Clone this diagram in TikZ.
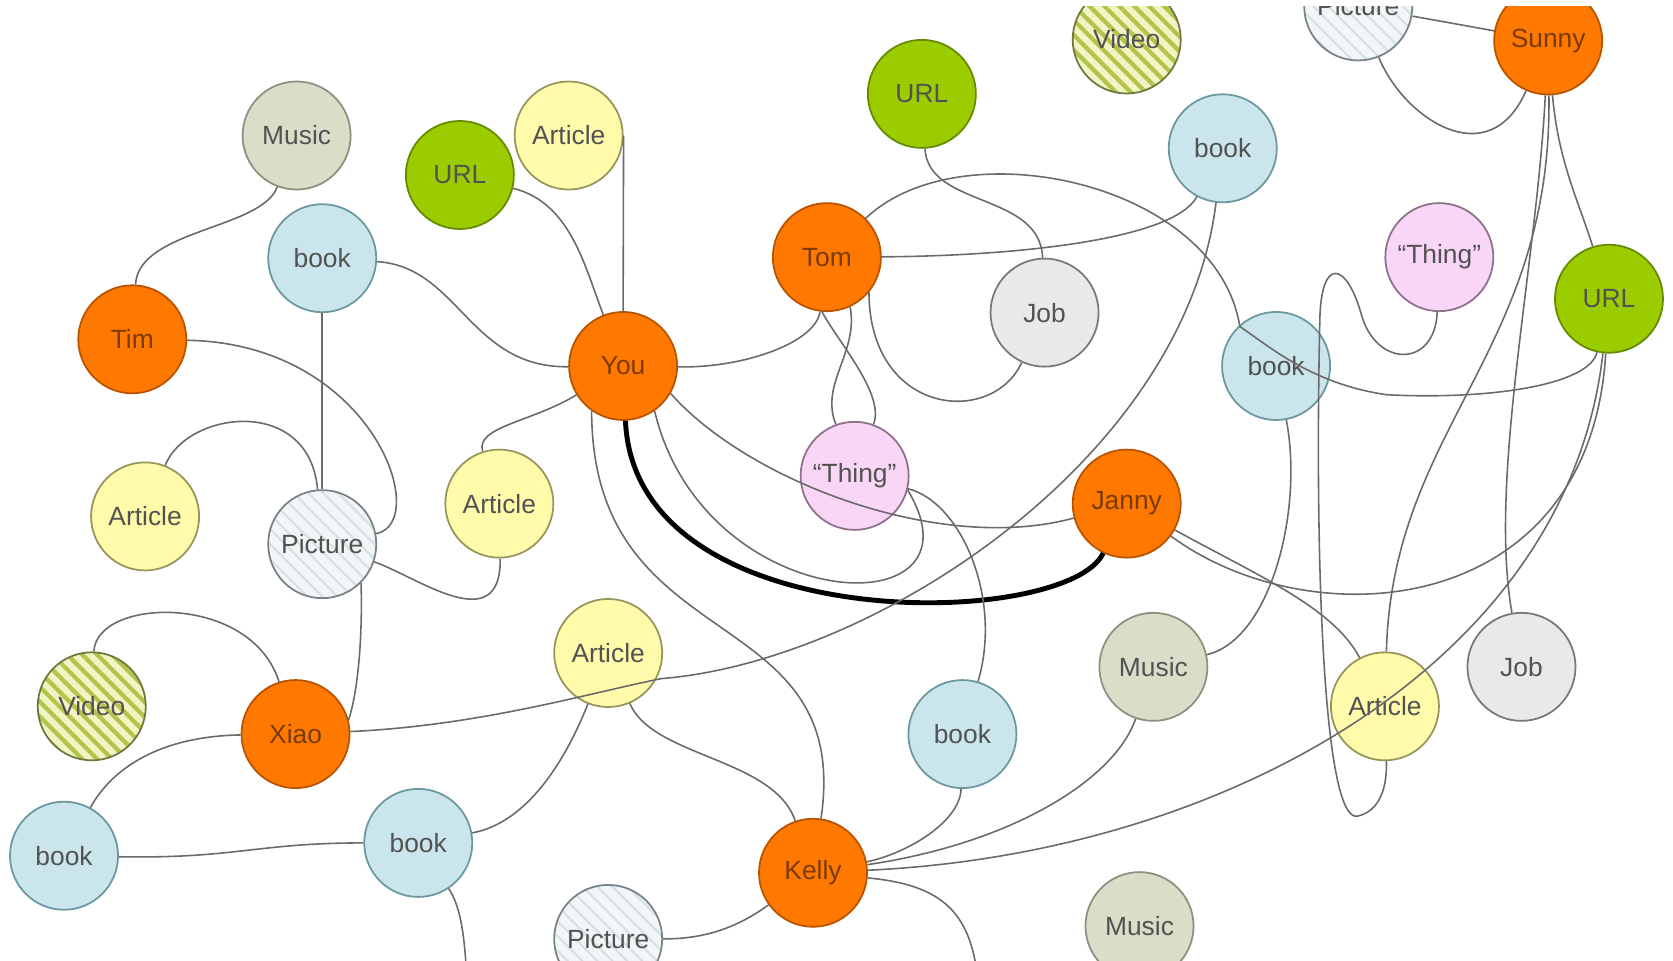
\documentclass[tikz,border=0pt]{standalone}
\usepackage{fontspec}
\setmainfont{Liberation Sans}
\usetikzlibrary{patterns,patterns.meta}

\definecolor{orangefill}{HTML}{FF7800}
\definecolor{orangeline}{HTML}{B85400}
\definecolor{orangetext}{HTML}{7A3A00}
\definecolor{greenfill}{HTML}{9ACC00}
\definecolor{greenline}{HTML}{668A00}
\definecolor{bluefill}{HTML}{CAE6EC}
\definecolor{blueline}{HTML}{6C979F}
\definecolor{yellowfill}{HTML}{FFFBAA}
\definecolor{yellowline}{HTML}{96965C}
\definecolor{musicfill}{HTML}{DCDDC9}
\definecolor{musicline}{HTML}{8E8F7E}
\definecolor{jobfill}{HTML}{E9E9E9}
\definecolor{jobline}{HTML}{787878}
\definecolor{thingfill}{HTML}{F9D6F6}
\definecolor{thingline}{HTML}{8C708C}
\definecolor{picfill}{HTML}{F3F6F7}
\definecolor{picline}{HTML}{788288}
\definecolor{picstripe}{HTML}{D6E0E5}
\definecolor{videofill}{HTML}{F2F4C4}
\definecolor{videostripe}{HTML}{B2C449}
\definecolor{videoline}{HTML}{6E783A}
\definecolor{edgegray}{HTML}{6A6A6A}

\tikzset{
  ent/.style={circle,draw,line width=0.5pt,minimum size=1.08cm,inner sep=0pt,
    text=black!68,font=\fontsize{7.5}{9}\selectfont},
  personnode/.style={ent,fill=orangefill,draw=orangeline,text=orangetext},
  urlnode/.style={ent,fill=greenfill,draw=greenline},
  booknode/.style={ent,fill=bluefill,draw=blueline},
  articlenode/.style={ent,fill=yellowfill,draw=yellowline},
  musicnode/.style={ent,fill=musicfill,draw=musicline},
  jobnode/.style={ent,fill=jobfill,draw=jobline},
  thingnode/.style={ent,fill=thingfill,draw=thingline},
  picnode/.style={ent,draw=picline,preaction={fill=picfill},
    pattern={Lines[angle=-45,distance=3pt,line width=0.6pt]},pattern color=picstripe},
  videonode/.style={ent,draw=videoline,preaction={fill=videofill},
    pattern={Lines[angle=-45,distance=3pt,line width=1.2pt]},pattern color=videostripe},
  ln/.style={draw=edgegray,line width=0.45pt},
  strongln/.style={draw=black,line width=1.4pt}
}

\begin{document}
\begin{tikzpicture}[x=0.01067cm,y=-0.01067cm]
\useasboundingbox (0,0) rectangle (1568,900);
\clip (0,6) rectangle (1568,900);

\node[musicnode] (music1) at (278,127) {Music};
\node[articlenode] (article1) at (533,127) {Article};
\node[urlnode] (url1) at (431,164) {URL};
\node[booknode] (book1) at (302,242) {book};
\node[personnode] (tim) at (124,318) {Tim};
\node[personnode] (you) at (584,343) {You};
\node[urlnode] (url2) at (864,88) {URL};
\node[videonode] (video1) at (1056,37) {Video};
\node[picnode] (picture1) at (1273,6) {Picture};
\node[personnode] (sunny) at (1451,38) {Sunny};
\node[booknode] (book2) at (1146,139) {book};
\node[personnode] (tom) at (775,241) {Tom};
\node[jobnode] (job1) at (979,293) {Job};
\node[thingnode] (thing1) at (1349,241) {``Thing''};
\node[urlnode] (url3) at (1508,280) {URL};
\node[booknode] (book3) at (1196,343) {book};
\node[articlenode] (article2) at (136,484) {Article};
\node[picnode] (picture2) at (302,510) {Picture};
\node[articlenode] (article3) at (468,472) {Article};
\node[thingnode] (thing2) at (801,446) {``Thing''};
\node[personnode] (janny) at (1056,472) {Janny};
\node[articlenode] (article4) at (570,612) {Article};
\node[videonode] (video2) at (86,662) {Video};
\node[personnode] (xiao) at (277,688) {Xiao};
\node[musicnode] (music2) at (1081,625) {Music};
\node[articlenode] (article5) at (1298,662) {Article};
\node[jobnode] (job2) at (1426,625) {Job};
\node[booknode] (book4) at (902,688) {book};
\node[booknode] (book5) at (60,802) {book};
\node[booknode] (book6) at (392,790) {book};
\node[personnode] (kelly) at (762,818) {Kelly};
\node[picnode] (picture3) at (570,880) {Picture};
\node[musicnode] (music3) at (1068,868) {Music};
\coordinate (kellyout) at (918,940);
\coordinate (book6out) at (438,940);

\draw[ln] (music1) .. controls (245,215) and (130,215) .. (tim);
\draw[ln] (book1) .. controls (430,250) and (440,345) .. (you);
\draw[ln] (book1) -- (picture2);
\draw[ln] (tim) .. controls (350,322) and (405,490) .. (picture2);
\draw[ln] (article2) .. controls (175,385) and (290,370) .. (picture2);
\draw[ln] (url1) .. controls (535,190) and (548,250) .. (you);
\draw[ln] (article1.east) -- (you.north);
\draw[ln] (you) .. controls (700,345) and (765,320) .. (tom);
\draw[ln] (you) .. controls (500,395) and (445,400) .. (article3);
\draw[strongln] (you) .. controls (595,600) and (1000,590) .. (janny);
\draw[ln] (you.235) .. controls (555,620) and (800,560) .. (kelly);
\draw[ln] (you.-30) .. controls (700,450) and (880,520) .. (janny);
\draw[ln] (you.-55) .. controls (660,580) and (930,590) .. (thing2.-15);
\draw[ln] (tom.-95) .. controls (785,320) and (830,370) .. (thing2.70);
\draw[ln] (tom.-65) .. controls (805,330) and (768,360) .. (thing2.110);
\draw[ln] (tom.-40) .. controls (815,390) and (930,400) .. (job1);
\draw[ln] (tom) .. controls (950,240) and (1100,225) .. (book2);
\draw[ln] (url2) .. controls (870,195) and (975,180) .. (job1);
\draw[ln] (tom.45) .. controls (900,120) and (1140,170) .. (1162,306)
  .. controls (1190,325) and (1230,360) .. (1300,370)
  .. controls (1400,375) and (1490,360) .. (url3);
\draw[ln] (xiao) .. controls (450,680) and (550,650) .. (620,636)
  .. controls (820,620) and (1110,430) .. (book2);
\draw[ln] (thing2) .. controls (900,470) and (940,560) .. (book4);
\draw[ln] (article4) .. controls (612,710) and (725,710) .. (kelly);
\draw[ln] (book6) .. controls (500,770) and (535,700) .. (article4);
\draw[ln] (kelly) .. controls (690,870) and (660,880) .. (picture3);
\draw[ln] (kelly) .. controls (850,800) and (900,770) .. (book4);
\draw[ln] (kelly) .. controls (950,790) and (1045,730) .. (music2);
\draw[ln] (kelly) .. controls (1150,800) and (1470,620) .. (url3);
\draw[ln] (kelly) .. controls (890,830) and (915,860) .. (kellyout);
\draw[ln] (book6) .. controls (432,850) and (437,880) .. (book6out);
\draw[ln] (video2) .. controls (90,560) and (235,555) .. (xiao);
\draw[ln] (xiao) .. controls (150,690) and (105,720) .. (book5);
\draw[ln] (book5) .. controls (220,805) and (240,790) .. (book6);
\draw[ln] (picture2.-45) .. controls (340,600) and (335,650) .. (xiao.15);
\draw[ln] (picture2) .. controls (390,540) and (470,600) .. (article3);
\draw[ln] (janny) .. controls (1230,600) and (1490,580) .. (url3);
\draw[ln] (janny) .. controls (1180,540) and (1250,570) .. (article5);
\draw[ln] (music2) .. controls (1190,600) and (1222,480) .. (book3);
\draw[ln] (thing1) .. controls (1345,345) and (1290,345) .. (1276,295)
  .. controls (1262,245) and (1238,240) .. (1237,300)
  .. controls (1232,520) and (1240,770) .. (1272,765)
  .. controls (1295,760) and (1300,735) .. (article5);
\draw[ln] (picture1) -- (sunny);
\draw[ln] (picture1) .. controls (1315,110) and (1395,165) .. (sunny);
\draw[ln] (sunny) .. controls (1460,150) and (1480,190) .. (url3);
\draw[ln] (sunny) .. controls (1455,330) and (1305,400) .. (article5);
\draw[ln] (sunny) .. controls (1440,250) and (1395,450) .. (job2);
\end{tikzpicture}
\end{document}
